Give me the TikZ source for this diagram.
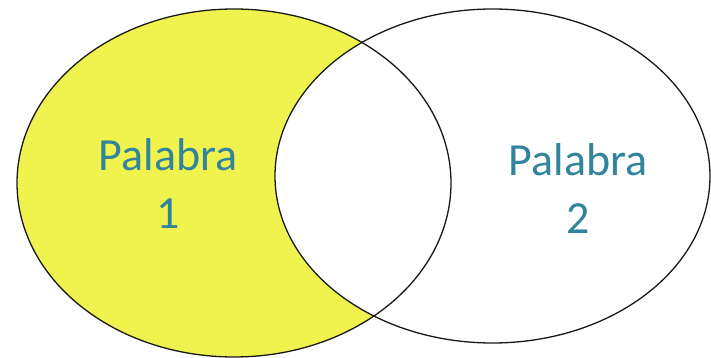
\documentclass[tikz,border=0pt]{standalone}
\usepackage{fontspec}
\setmainfont{Carlito}
\usepackage{tikz}
\usetikzlibrary{positioning}
\definecolor{amarillo}{RGB}{240,243,78}
\definecolor{azulpalabra}{RGB}{49,132,155}

\begin{document}
\begin{tikzpicture}[
    x=1pt, y=-1pt,
    % Outline of both sets
    conjunto/.style={draw=black!90, line width=1.3pt},
    palabra/.style={text=azulpalabra, align=center, inner sep=0pt, font=\fontsize{46}{58}\selectfont}
]
    \useasboundingbox (0,0) rectangle (711,358);

    % 1. Left set filled, then the common part cleared
    \fill[amarillo] (234,183) ellipse [x radius=217pt, y radius=174pt];
    \begin{scope}
        \clip (492.5,176) ellipse [x radius=217.5pt, y radius=167pt];
        \fill[white] (234,183) ellipse [x radius=217pt, y radius=174pt];
    \end{scope}

    % 2. Outlines
    \draw[conjunto] (234,183) ellipse [x radius=217pt, y radius=174pt];
    \draw[conjunto] (492.5,176) ellipse [x radius=217.5pt, y radius=167pt];

    % 3. Labels (base = baseline of the number line)
    \node[palabra, anchor=base] (p1) at (168,228) {Palabra\\ 1};
    \node[palabra, anchor=base] (p2) at (578,233) {Palabra\\ 2};

\end{tikzpicture}
\end{document}
